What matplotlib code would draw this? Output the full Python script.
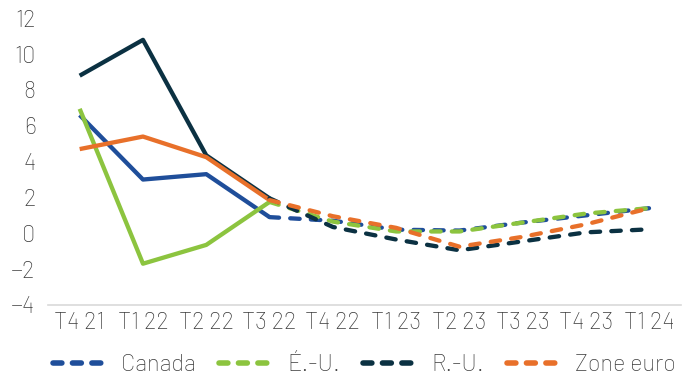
import matplotlib.pyplot as plt

# Données
trimestres = ["T4 21", "T1 22", "T2 22", "T3 22", "T4 22",
              "T1 23", "T2 23", "T3 23", "T4 23", "T1 24"]
canada = [6.6, 3.0, 3.3, 0.9, 0.7, 0.2, 0.15, 0.6, 1.0, 1.4]
eu = [6.95, -1.7, -0.65, 1.75, 0.65, 0.1, 0.1, 0.6, 1.1, 1.4]
ru = [8.8, 10.8, 4.35, 1.95, 0.35, -0.35, -0.95, -0.45, 0.05, 0.22]
zone_euro = [4.7, 5.4, 4.25, 1.85, 0.95, 0.3, -0.75, -0.2, 0.5, 1.4]

series = [("Canada", canada, "#1f4e9a"),
          ("É.-U.", eu, "#8cc43f"),
          ("R.-U.", ru, "#0b3142"),
          ("Zone euro", zone_euro, "#e8702a")]

N_REEL = 4  # les 4 premiers points sont observés, le reste est prévu

plt.rcParams['font.family'] = ['Barlow', 'Barlow Semi Condensed', 'DejaVu Sans']
plt.rcParams['font.weight'] = 'light'
fig, ax = plt.subplots(figsize=(6.9, 3.75), dpi=100)
fig.subplots_adjust(left=0.0696, right=0.987, top=0.951, bottom=0.187)

x = list(range(len(trimestres)))
for nom, vals, coul in series:
    ax.plot(x[:N_REEL], vals[:N_REEL], color=coul, lw=3.1, solid_capstyle='butt')
for nom, vals, coul in series:
    ax.plot(x[N_REEL - 1:], vals[N_REEL - 1:], color=coul, lw=3.1,
            ls=(0, (2.2, 2.6)), dash_capstyle='round', label=nom)

ax.set_xlim(-0.5, len(trimestres) - 0.5)
ax.set_ylim(-4, 12)
ax.set_yticks(range(-4, 13, 2))
ax.set_xticks(x)
ax.set_xticklabels(trimestres)
ax.tick_params(axis='both', length=0, labelsize=17, labelcolor='#3a3a3a')
ax.tick_params(axis='x', pad=5)
ax.tick_params(axis='y', pad=9)
for s in ['top', 'right', 'left']:
    ax.spines[s].set_visible(False)
ax.spines['bottom'].set_color('#d9d9d9')
ax.spines['bottom'].set_linewidth(1.2)

leg = ax.legend(loc='center', bbox_to_anchor=(0.5, -0.21), ncol=4,
                frameon=False, fontsize=17, handlelength=2.4, columnspacing=1.0,
                handletextpad=0.47, labelcolor='#3a3a3a')
# traits de la légende un peu plus épais, comme dans l'original
for ligne in leg.get_lines():
    ligne.set_linewidth(4)
    ligne.set_dashes((1.6, 1.9))

plt.savefig('out.png')
